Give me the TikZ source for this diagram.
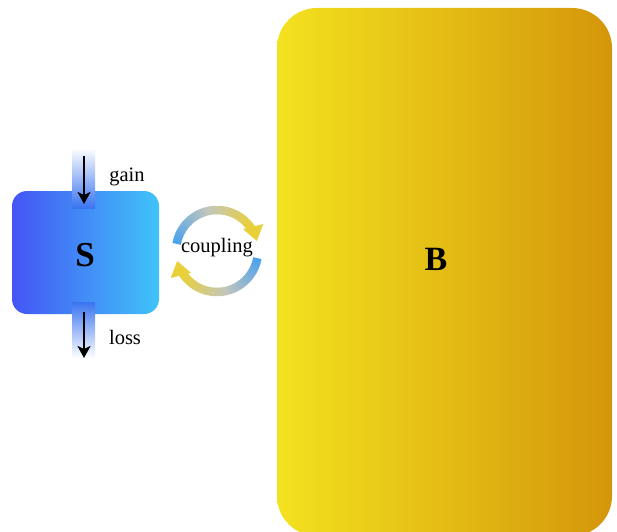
\documentclass[tikz,border=0pt]{standalone}
\usepackage{fontspec}
\setmainfont{Liberation Serif}
\usetikzlibrary{arrows.meta}
\definecolor{sL}{HTML}{4455F5}
\definecolor{sR}{HTML}{40C4F8}
\definecolor{bL}{HTML}{F3E21F}
\definecolor{bR}{HTML}{D4960A}
\definecolor{cb}{HTML}{4AA2EC}
\definecolor{cm}{HTML}{C2C6BC}
\definecolor{cy}{HTML}{E8D03A}
\definecolor{barb}{HTML}{3A74F0}
\tikzset{
  box/.style={rounded corners=#1, inner sep=0pt},
  bar/.style={minimum width=23pt, inner sep=0pt, draw=none},
  flow/.style={line width=2.2pt, -{Stealth[length=12pt,width=13pt,inset=3pt]}},
  lab/.style={font=\fontsize{20.5}{24}\selectfont, inner sep=0pt},
  ring/.style={line width=8.5pt, line cap=butt}
}
\begin{document}
\begin{tikzpicture}[x=1pt,y=1pt]
\useasboundingbox (0,0) rectangle (617,531);
% System S
\node[box=15pt, minimum width=147pt, minimum height=123pt, left color=sL, right color=sR] (S) at (85.5,278.5) {};
\node[font=\fontsize{35}{38}\selectfont\bfseries] (Slab) at (85,276) {S};
% Bath B
\node[box=40pt, minimum width=335pt, minimum height=528pt, left color=bL, right color=bR] (B) at (444.5,259) {};
\node[font=\fontsize{34}{37}\selectfont\bfseries] (Blab) at (436,272) {B};
% gain bar
\node[bar, minimum height=60pt, top color=white, bottom color=barb] (gbar) at (83.5,353) {};
\coordinate (g1) at (84,375);
\coordinate (g2) at (84,327);
\draw[flow] (g1) -- (g2);
\node[lab] (gain) at (127,354) {gain};
% loss bar
\node[bar, minimum height=56pt, top color=barb, bottom color=white] (lbar) at (83.5,201) {};
\coordinate (l1) at (84,219);
\coordinate (l2) at (84,173);
\draw[flow] (l1) -- (l2);
\node[lab] (loss) at (125,194) {loss};
% coupling
\coordinate (C) at (217,280);
\foreach \i in {0,...,39}{
  \pgfmathtruncatemacro\p{100-\i*2.5}
  \pgfmathtruncatemacro\q{\p>=50 ? (\p-50)*2 : \p*2}
  \ifnum\p<50 \colorlet{ringcol}{cm!\q!cy}\else\colorlet{ringcol}{cb!\q!cm}\fi
  \pgfmathsetmacro\a{170-\i*(170-38)/40}
  \pgfmathsetmacro\b{170-(\i+1)*(170-38)/40-0.6}
  \draw[ring, color=ringcol] ([shift={(\a:41)}]C) arc[start angle=\a, end angle=\b, radius=41];
  \pgfmathsetmacro\c{-10-\i*(142-10)/40}
  \pgfmathsetmacro\d{-10-(\i+1)*(142-10)/40-0.6}
  \draw[ring, color=ringcol] ([shift={(\c:41)}]C) arc[start angle=\c, end angle=\d, radius=41];
}
\draw[ring, cy, -{Triangle[width=20pt,length=15pt]}] ([shift={(38.5:41)}]C) arc[start angle=38.5, end angle=14, radius=41];
\draw[ring, cy, -{Triangle[width=20pt,length=15pt]}] ([shift={(-141.5:41)}]C) arc[start angle=-141.5, end angle=-166, radius=41];
\node[lab] (coup) at (217,283) {coupling};
\end{tikzpicture}
\end{document}
